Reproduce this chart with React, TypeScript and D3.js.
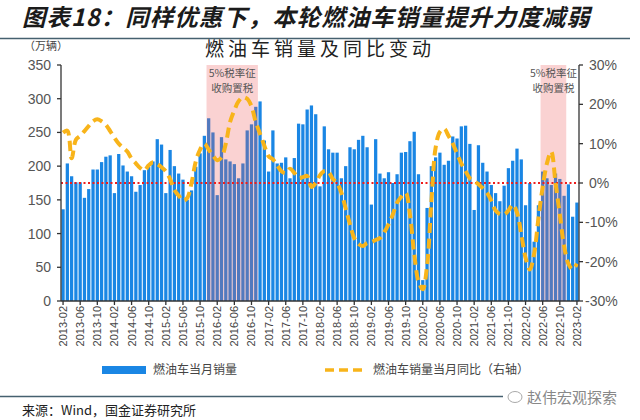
import React from "react";
import * as d3 from "d3";

const startYear = 2013;
const months: string[] = [];
for (let k = 0; k < 121; k++) {
  const m = (1 + k) % 12; // 2013-02 start
  const y = startYear + Math.floor((1 + k) / 12);
  months.push(`${y}-${String(m + 1).padStart(2, "0")}`);
}

const salesValues: number[] = [
  136, 204, 185, 176, 176, 153, 166, 195, 195, 206, 214,
  216, 160, 218, 201, 192, 185, 162, 172, 194, 199, 207, 240,
  232, 160, 224, 200, 189, 180, 150, 164, 199, 219, 245, 271,
  250, 157, 243, 210, 207, 203, 182, 204, 253, 262, 288, 296,
  238, 192, 253, 204, 205, 213, 182, 212, 263, 262, 284, 290,
  277, 170, 259, 225, 220, 220, 182, 200, 228, 225, 239, 245,
  228, 143, 240, 189, 182, 191, 175, 188, 220, 221, 237, 251,
  188, 31, 138, 200, 213, 220, 202, 208, 244, 241, 259, 260,
  233, 135, 231, 205, 192, 172, 160, 148, 171, 197, 208, 226,
  210, 142, 175, 88, 142, 192, 182, 172, 189, 181, 156, 173,
  125, 146,
];

const yoyValues: number[] = [
  12.8, 13.3, 6.3, 11, 12, 13.2, 14.5, 15.7, 16.2, 15.7, 14.8,
  13.2, 11.5, 10, 9, 8, 6.2, 5, 3.8, 3.2, 4.5, 5.3, 4.8,
  4, 3, 1, -1.8, -3.2, -4.5, -3.8, 0, 5.5, 8.5, 10, 8.5,
  7, 5.8, 6.5, 10, 15.5, 18.5, 20.8, 21.8, 21.4, 19.5, 15.5, 12.5,
  9.5, 6.8, 6, 4.5, 3, 2.5, 3.6, 2.6, 1.3, 1.5, 1.8, -1,
  0, 2, 3, 2.8, 1, 0, -2.5, -6.5, -10.5, -14, -15.5, -16,
  -15.3, -15, -14.5, -14, -12.5, -10.5, -8, -5, -3.5, -2.5, -8, -18,
  -25, -27, -21, -5, 9, 13, 13.8, 12, 10, 7.5, 5, 3,
  1.2, 0.5, -0.3, -1.3, -2.5, -4.5, -7, -7.9, -8, -7, -5.5, -7.5,
  -13, -19, -22, -18, -9, -1, 5, 8, 0, -8, -16, -20.5,
  -22, -20.5,
];

const leftTicks = [0, 50, 100, 150, 200, 250, 300, 350];
const rightTicks = [-30, -20, -10, 0, 10, 20, 30];
const policyPeriods: [string, string][] = [
  ["2015-12", "2016-11"],
  ["2022-06", "2022-11"],
];
const policyLabel = ["5%税率征", "收购置税"];

const titleText = "图表18：同样优惠下，本轮燃油车销量提升力度减弱";
const chartTitle = "燃油车销量及同比变动";
const unitText = "（万辆）";
const legendBar = "燃油车当月销量";
const legendLine = "燃油车销量当月同比（右轴）";
const sourceText = "来源：Wind，国金证券研究所";
const watermark = "赵伟宏观探索";

const W = 640, H = 420;
const L = 61, R = 579, T = 65, B = 301;
const BAR = "#1a86e4";
const LINE = "#f8b41a";
const CJK = "'Noto Sans CJK SC', sans-serif";
const NUM = "'Liberation Sans', Arial, sans-serif";

export default function App() {
  const x = d3.scaleBand<string>().domain(months).range([L, R]).paddingInner(0.24).paddingOuter(0.1);
  const yL = d3.scaleLinear().domain([0, 350]).range([B, T]);
  const yR = d3.scaleLinear().domain([-30, 30]).range([B, T]);
  const bw = x.bandwidth();
  const step = x.step();
  const cx = (m: string) => (x(m) as number) + bw / 2;

  const lineGen = d3
    .line<number>()
    .x((_, i) => cx(months[i]))
    .y((d) => yR(d))
    .curve(d3.curveCatmullRom.alpha(0.5));

  const tickMonths = months.filter((_, i) => i % 4 === 0);

  return (
    <svg width={W} height={H} style={{ position: "absolute", left: 0, top: 0, background: "#fff" }}>
      <text x={22} y={26} fontFamily={CJK} fontSize={23.5} fontWeight="bold" fontStyle="italic" fill="#1b1b1b" letterSpacing={1}>
        {titleText}
      </text>
      <line x1={0} x2={630} y1={38.5} y2={38.5} stroke="#45606f" strokeWidth={1.5} />
      <text x={24} y={50} fontFamily={CJK} fontSize={11} fill="#444">{unitText}</text>
      <text x={320} y={56} textAnchor="middle" fontFamily={CJK} fontSize={19} fill="#222" letterSpacing={4}>
        {chartTitle}
      </text>

      {/* bars */}
      {salesValues.map((v, i) => (
        <rect key={i} x={x(months[i])} y={yL(v)} width={bw} height={B - yL(v)} fill={BAR} />
      ))}

      {/* policy shading */}
      {policyPeriods.map(([s, e], k) => {
        const x0 = (x(s) as number) - (step - bw) / 2;
        const x1 = (x(e) as number) + bw + (step - bw) / 2;
        return (
          <g key={k}>
            <rect x={x0} y={T} width={x1 - x0} height={B - T} fill="rgb(235,90,90)" fillOpacity={0.27} />
            {policyLabel.map((t, j) => (
              <text key={j} x={(x0 + x1) / 2} y={77 + j * 15} textAnchor="middle" fontFamily={CJK} fontSize={10.5} fill="#555">
                {t}
              </text>
            ))}
          </g>
        );
      })}

      {/* zero reference */}
      <line x1={L} x2={R} y1={yR(0)} y2={yR(0)} stroke="#ee1c1c" strokeWidth={2} strokeDasharray="2,2.5" />

      {/* yoy line */}
      <path d={lineGen(yoyValues) || ""} fill="none" stroke={LINE} strokeWidth={4} strokeDasharray="10,5.5" />

      {/* axes */}
      <line x1={L} x2={L} y1={T} y2={B} stroke="#333" strokeWidth={1.3} />
      <line x1={R} x2={R} y1={T} y2={B} stroke="#333" strokeWidth={1.3} />
      <line x1={L} x2={R} y1={B} y2={B} stroke="#333" strokeWidth={1.3} />
      {leftTicks.map((t) => (
        <g key={t}>
          <line x1={L - 4} x2={L} y1={yL(t)} y2={yL(t)} stroke="#333" strokeWidth={1.3} />
          <text x={51} y={yL(t) + 5} textAnchor="end" fontFamily={NUM} fontSize={14} fill="#555">{t}</text>
        </g>
      ))}
      {rightTicks.map((t) => (
        <g key={t}>
          <line x1={R} x2={R + 4} y1={yR(t)} y2={yR(t)} stroke="#333" strokeWidth={1.3} />
          <text x={t < 0 ? 585 : 589} y={yR(t) + 5} fontFamily={NUM} fontSize={14} fill="#555">{`${t}%`}</text>
        </g>
      ))}
      {tickMonths.map((m) => (
        <g key={m}>
          <line x1={cx(m)} x2={cx(m)} y1={B} y2={B + 4} stroke="#333" strokeWidth={1.3} />
          <text transform={`translate(${cx(m) + 4},${B + 5}) rotate(-90)`} textAnchor="end" fontFamily={NUM} fontSize={11} fill="#444">
            {m}
          </text>
        </g>
      ))}

      {/* legend */}
      <rect x={102} y={366} width={44} height={8} fill={BAR} />
      <text x={153} y={374} fontFamily={CJK} fontSize={12} fill="#444">{legendBar}</text>
      <line x1={325} x2={363} y1={370} y2={370} stroke={LINE} strokeWidth={3.5} strokeDasharray="9,5" />
      <text x={373} y={374} fontFamily={CJK} fontSize={12} fill="#444">{legendLine}</text>

      {/* footer */}
      <line x1={0} x2={630} y1={396.5} y2={396.5} stroke="#45606f" strokeWidth={1.5} />
      <rect x={503} y={388} width={130} height={18} fill="#fff" />
      <ellipse cx={515} cy={397} rx={7} ry={5.5} fill="none" stroke="#aaa" strokeWidth={1} />
      <text x={527} y={403} fontFamily={CJK} fontSize={15} fill="#888">{watermark}</text>
      <text x={22} y={415} fontFamily={CJK} fontSize={13} fill="#222">{sourceText}</text>
    </svg>
  );
}
